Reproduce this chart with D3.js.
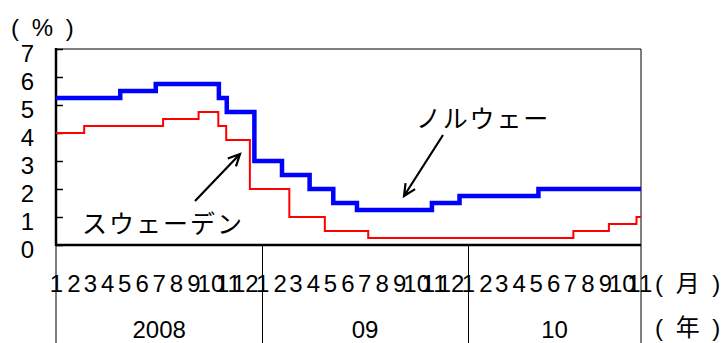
<!DOCTYPE html>
<html>
<head>
<meta charset="utf-8">
<script src="https://cdn.jsdelivr.net/npm/d3@7/dist/d3.min.js"></script>
<style>
  html, body { margin: 0; padding: 0; background: #fff; }
  svg { display: block; }
  text { font-family: "Liberation Sans", Arial, "Noto Sans CJK JP", sans-serif; fill: #000; }
  .jp { font-family: "Noto Sans CJK JP", sans-serif; }
</style>
</head>
<body>
<svg id="chart" width="723" height="343"></svg>
<script>
// ---- Data ----
// Norway policy rate (step changes, effective dates)
const norwayDates  = ["2008-01-01","2008-04-24","2008-06-26","2008-10-16","2008-10-30","2008-12-18",
                      "2009-02-05","2009-03-26","2009-05-07","2009-06-18","2009-10-29","2009-12-17",
                      "2010-05-06","2010-11-04"];
const norwayValues = [5.25, 5.50, 5.75, 5.25, 4.75, 3.00,
                      2.50, 2.00, 1.50, 1.25, 1.50, 1.75,
                      2.00, 2.00];
// Sweden repo rate
const swedenDates  = ["2008-01-01","2008-02-20","2008-07-09","2008-09-10","2008-10-15","2008-10-29",
                      "2008-12-10","2009-02-18","2009-04-22","2009-07-08","2010-07-07","2010-09-08",
                      "2010-10-27","2010-11-04"];
const swedenValues = [4.00, 4.25, 4.50, 4.75, 4.25, 3.75,
                      2.00, 1.00, 0.50, 0.25, 0.50, 0.75,
                      1.00, 1.00];
const yTicks = [0,1,2,3,4,5,6,7];
const monthLabels = ["1","2","3","4","5","6","7","8","9","10","11","12",
                     "1","2","3","4","5","6","7","8","9","10","11","12",
                     "1","2","3","4","5","6","7","8","9","10","11"];
const yearLabels = ["2008","09","10"];
const yearStarts = ["2008-01-01","2009-01-01","2010-01-01"];
const domainStart = "2008-01-01", domainEnd = "2010-11-04";

// ---- Layout ----
const L = 56, R = 641, T = 49, B = 245, H = 343;
const parse = d3.timeParse("%Y-%m-%d");
const svg = d3.select("#chart");

const x = d3.scaleTime().domain([parse(domainStart), parse(domainEnd)]).range([L, R]);
const y = d3.scaleLinear().domain([0, 7]).range([B, T]);

// frame: top and right borders
svg.append("line").attr("x1", L).attr("x2", R).attr("y1", T).attr("y2", T)
  .attr("stroke", "#000").attr("stroke-width", 1);
svg.append("line").attr("x1", R).attr("x2", R).attr("y1", T).attr("y2", H)
  .attr("stroke", "#000").attr("stroke-width", 1);
// left line extending below axis
svg.append("line").attr("x1", L).attr("x2", L).attr("y1", B).attr("y2", H)
  .attr("stroke", "#000").attr("stroke-width", 1);
// year separators
yearStarts.slice(1).forEach(d => {
  const xx = Math.round(x(parse(d))) + 0.5;
  svg.append("line").attr("x1", xx).attr("x2", xx).attr("y1", B).attr("y2", H)
    .attr("stroke", "#000").attr("stroke-width", 1);
});

// y axis
const yAxis = d3.axisLeft(y).tickValues(yTicks).tickSize(-7).tickPadding(22).tickFormat(d3.format("d"));
const gy = svg.append("g").attr("transform", `translate(${L},0)`).call(yAxis);
gy.select(".domain").remove();
gy.selectAll(".tick line").attr("stroke", "#000").attr("stroke-width", 1.5);
gy.selectAll(".tick text").attr("font-size", 24).attr("dy", "0.5em")
  .style("font-family", '"Liberation Sans", Arial, sans-serif');
// y axis line
svg.append("line").attr("x1", L).attr("x2", L).attr("y1", T - 1).attr("y2", B + 1)
  .attr("stroke", "#000").attr("stroke-width", 2.5);

// series lines
const line = d3.line().curve(d3.curveStepAfter).x(d => x(d[0])).y(d => y(d[1]));
const sweden = swedenDates.map((d, i) => [parse(d), swedenValues[i]]);
const norway = norwayDates.map((d, i) => [parse(d), norwayValues[i]]);
svg.append("path").datum(sweden).attr("d", line)
  .attr("fill", "none").attr("stroke", "#ff0000").attr("stroke-width", 2);
svg.append("path").datum(norway).attr("d", line)
  .attr("fill", "none").attr("stroke", "#0000ff").attr("stroke-width", 4.5);

// x axis line
svg.append("line").attr("x1", L).attr("x2", R).attr("y1", B).attr("y2", B)
  .attr("stroke", "#000").attr("stroke-width", 2.5);

// month labels
const monthDates = d3.timeMonth.range(parse(domainStart), parse(domainEnd));
const xAxis = d3.axisBottom(x).tickValues(monthDates).tickSize(0).tickPadding(30)
  .tickFormat((d, i) => monthLabels[i]);
const gx = svg.append("g").attr("transform", `translate(0,${B})`).call(xAxis);
gx.select(".domain").remove();
gx.selectAll(".tick text").attr("font-size", 24)
  .style("font-family", '"Liberation Sans", Arial, sans-serif');

// year labels
const yearEnds = yearStarts.slice(1).concat([domainEnd]);
yearLabels.forEach((lab, i) => {
  const cx = (x(parse(yearStarts[i])) + x(parse(yearEnds[i]))) / 2;
  svg.append("text").attr("x", cx).attr("y", 338).attr("text-anchor", "middle")
    .attr("font-size", 24).text(lab);
});

// unit labels
svg.append("text").attr("x", 11).attr("y", 36).attr("font-size", 24)
  .attr("letter-spacing", 3).text("( % )");
svg.append("text").attr("x", 655).attr("y", 292).attr("font-size", 24)
  .attr("letter-spacing", 3).text("( 月 )");
svg.append("text").attr("x", 655).attr("y", 336).attr("font-size", 24)
  .attr("letter-spacing", 3).text("( 年 )");

// annotations
svg.append("text").attr("class", "jp").attr("x", 416).attr("y", 128)
  .attr("font-size", 25).attr("letter-spacing", 1.8).text("ノルウェー");
svg.append("text").attr("class", "jp").attr("x", 82).attr("y", 233)
  .attr("font-size", 25).attr("letter-spacing", 2).text("スウェーデン");

function arrow(x1, y1, x2, y2) {
  const a = Math.atan2(y2 - y1, x2 - x1), len = 13, spread = 0.45;
  const p1 = [x2 - len * Math.cos(a - spread), y2 - len * Math.sin(a - spread)];
  const p2 = [x2 - len * Math.cos(a + spread), y2 - len * Math.sin(a + spread)];
  svg.append("path")
    .attr("d", `M${x1},${y1}L${x2},${y2}M${p1[0]},${p1[1]}L${x2},${y2}L${p2[0]},${p2[1]}`)
    .attr("fill", "none").attr("stroke", "#000").attr("stroke-width", 2.2)
    .attr("stroke-linejoin", "miter");
}
arrow(443, 135, 404, 196);
arrow(195, 201, 240, 154);
</script>
</body>
</html>
